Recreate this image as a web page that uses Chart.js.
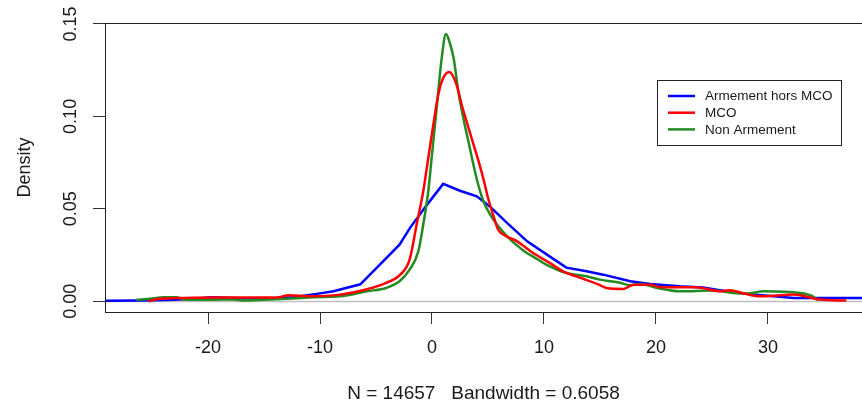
<!DOCTYPE html>
<html>
<head>
<meta charset="utf-8">
<script src="https://cdn.jsdelivr.net/npm/chart.js@4/dist/chart.umd.min.js"></script>
<style>
  html, body { margin: 0; padding: 0; background: #fff; overflow: hidden; }
</style>
</head>
<body>
<canvas id="densityChart" width="862" height="405"></canvas>
<script>
// Density curves (x = value, y = density)
const seriesLabels = ['Armement hors MCO', 'MCO', 'Non Armement'];

const armementX = [-29.2, -26, -23, -21.3, -19.8, -17, -14, -12.4, -10.3, -8.8, -6.4, -4.5, -2.9, -1.96, -0.47, 1.0, 2.5, 4.0, 4.6, 5.3, 6.07, 6.7, 8.5, 10.5, 12.0, 13.8, 15.3, 17.7, 19.5, 22.1, 24.2, 25.7, 28.1, 30.0, 32.3, 35.0, 38.4];
const armementY = [0.0003, 0.0004, 0.0008, 0.0013, 0.0022, 0.0016, 0.0016, 0.0022, 0.0040, 0.0054, 0.0092, 0.0208, 0.0306, 0.0397, 0.0520, 0.0635, 0.0598, 0.0568, 0.0540, 0.0505, 0.0460, 0.0424, 0.0324, 0.0243, 0.0182, 0.0162, 0.0144, 0.0108, 0.0094, 0.0081, 0.0074, 0.0060, 0.0040, 0.0030, 0.0018, 0.0018, 0.0018];

const mcoX = [-25.3, -24.5, -22.2, -19.0, -16.0, -13.9, -12.8, -11.0, -8.2, -5.8, -4.1, -2.9, -2.0, -1.37, -0.78, -0.33, 0.12, 0.56, 1.0, 1.55, 2.2, 2.65, 3.1, 3.55, 4.1, 4.6, 5.0, 5.5, 5.9, 6.4, 7.6, 9.0, 10.5, 11.7, 13.2, 14.9, 15.6, 17.1, 18.0, 19.5, 20.4, 23.6, 25.7, 26.6, 27.7, 29.3, 30.5, 32.3, 33.5, 34.6, 37.0];
const mcoY = [0.0000, 0.0012, 0.0018, 0.0020, 0.0020, 0.0020, 0.0032, 0.0027, 0.0036, 0.0065, 0.0100, 0.0140, 0.0225, 0.0415, 0.0595, 0.0775, 0.0955, 0.1117, 0.1207, 0.1240, 0.1170, 0.1063, 0.0970, 0.0880, 0.0770, 0.0660, 0.0560, 0.0460, 0.0388, 0.0360, 0.0324, 0.0262, 0.0208, 0.0162, 0.0128, 0.0090, 0.0072, 0.0067, 0.0090, 0.0090, 0.0076, 0.0076, 0.0054, 0.0060, 0.0045, 0.0027, 0.0030, 0.0036, 0.0024, 0.0009, 0.0004];

const nonArmementX = [-26.4, -25.0, -24.0, -22.8, -22.2, -20.0, -17.7, -16.8, -15.0, -12.5, -10.5, -8.2, -5.8, -4.1, -2.9, -2.0, -1.22, -0.78, -0.33, -0.03, 0.27, 0.56, 0.87, 1.25, 1.55, 1.93, 2.35, 2.8, 3.25, 3.7, 4.13, 4.6, 5.2, 5.8, 7.0, 7.7, 8.5, 9.0, 10.2, 12.0, 13.8, 15.0, 16.8, 17.7, 18.6, 20.1, 22.1, 25.1, 26.9, 28.1, 29.6, 32.9, 34.0, 34.5];
const nonArmementY = [0.0008, 0.0015, 0.0022, 0.0022, 0.0010, 0.0008, 0.0010, 0.0004, 0.0008, 0.0015, 0.0022, 0.0027, 0.0054, 0.0072, 0.0108, 0.0171, 0.0270, 0.0415, 0.0595, 0.0775, 0.0955, 0.1135, 0.1316, 0.1445, 0.1405, 0.1316, 0.1135, 0.0990, 0.0865, 0.0739, 0.0630, 0.0540, 0.0469, 0.0415, 0.0334, 0.0297, 0.0260, 0.0243, 0.0198, 0.0153, 0.0135, 0.0117, 0.0100, 0.0087, 0.0094, 0.0072, 0.0054, 0.0058, 0.0045, 0.0042, 0.0054, 0.0045, 0.0027, 0.0005];

const xTickValues = [-20, -10, 0, 10, 20, 30];
const yTickValues = [0, 0.05, 0.10, 0.15];
const xTitle = 'N = 14657   Bandwidth = 0.6058';
const yTitle = 'Density';

const FONT = "'Liberation Sans', Arial, sans-serif";
const INK = '#1a1a1a';

function toPoints(xs, ys) {
    return xs.map((x, i) => ({ x: x, y: ys[i] }));
}

// R-style extras: zero line, box round the plot, legend in the top right
const rPlotPlugin = {
    id: 'rPlot',
    beforeDatasetsDraw(chart) {
        const { ctx, chartArea, scales } = chart;
        const y0 = Math.round(scales.y.getPixelForValue(0)) + 0.5;
        ctx.save();
        ctx.strokeStyle = '#bebebe';
        ctx.lineWidth = 1.5;
        ctx.beginPath();
        ctx.moveTo(chartArea.left, y0);
        ctx.lineTo(chartArea.right, y0);
        ctx.stroke();
        ctx.restore();
    },
    afterDatasetsDraw(chart) {
        const { ctx, chartArea } = chart;
        ctx.save();
        ctx.strokeStyle = '#222';
        ctx.lineWidth = 1;
        ctx.strokeRect(Math.round(chartArea.left) + 0.5, Math.round(chartArea.top) + 0.5,
            chartArea.right - chartArea.left, chartArea.bottom - chartArea.top);

        // legend
        const box = { x: 657.5, y: 80.5, w: 184, h: 65 };
        ctx.fillStyle = '#fff';
        ctx.fillRect(box.x, box.y, box.w, box.h);
        ctx.strokeRect(box.x, box.y, box.w, box.h);
        ctx.font = '13.5px ' + FONT;
        ctx.textBaseline = 'middle';
        ctx.textAlign = 'left';
        chart.data.datasets.forEach((ds, i) => {
            const rowY = 96 + i * 16.7;
            ctx.strokeStyle = ds.borderColor;
            ctx.lineWidth = 2.5;
            ctx.beginPath();
            ctx.moveTo(668, rowY);
            ctx.lineTo(695, rowY);
            ctx.stroke();
            ctx.fillStyle = INK;
            ctx.fillText(ds.label, 705, rowY + 0.5);
        });
        ctx.restore();
    }
};

const ctx = document.getElementById('densityChart').getContext('2d');

new Chart(ctx, {
    type: 'line',
    data: {
        datasets: [
            {
                label: seriesLabels[0],
                data: toPoints(armementX, armementY),
                borderColor: '#0000ff',
                borderWidth: 2.5,
                pointRadius: 0,
                tension: 0,
                fill: false,
                order: 3
            },
            {
                label: seriesLabels[1],
                data: toPoints(mcoX, mcoY),
                borderColor: '#ff0000',
                borderWidth: 2.5,
                pointRadius: 0,
                cubicInterpolationMode: 'monotone',
                fill: false,
                order: 1
            },
            {
                label: seriesLabels[2],
                data: toPoints(nonArmementX, nonArmementY),
                borderColor: '#228b22',
                borderWidth: 2.5,
                pointRadius: 0,
                cubicInterpolationMode: 'monotone',
                fill: false,
                order: 2
            }
        ]
    },
    options: {
        responsive: false,
        animation: false,
        events: [],
        layout: { padding: { top: 23, right: 0, bottom: 0, left: 0 } },
        plugins: {
            legend: { display: false },
            tooltip: { enabled: false }
        },
        scales: {
            x: {
                type: 'linear',
                min: -29.2,
                max: 38.4,
                afterBuildTicks: scale => { scale.ticks = xTickValues.map(v => ({ value: v })); },
                afterFit: scale => { scale.height = 93; },
                border: { display: false },
                grid: { drawOnChartArea: false, drawTicks: true, tickLength: 12, color: '#333' },
                ticks: {
                    autoSkip: false,
                    maxRotation: 0,
                    padding: 13,
                    color: INK,
                    font: { family: FONT, size: 18 },
                    callback: v => String(v)
                },
                title: {
                    display: true,
                    text: xTitle,
                    color: INK,
                    font: { family: FONT, size: 19 },
                    padding: { top: 0, bottom: 0 }
                }
            },
            y: {
                min: -0.0058,
                max: 0.1505,
                afterBuildTicks: scale => { scale.ticks = yTickValues.map(v => ({ value: v })); },
                afterFit: scale => { scale.width = 105; },
                border: { display: false },
                grid: { drawOnChartArea: false, drawTicks: true, tickLength: 12, color: '#333' },
                ticks: {
                    minRotation: 90,
                    maxRotation: 90,
                    crossAlign: 'center',
                    padding: 4,
                    color: INK,
                    font: { family: FONT, size: 18 },
                    callback: v => v.toFixed(2)
                },
                title: {
                    display: true,
                    text: yTitle,
                    color: INK,
                    font: { family: FONT, size: 18 },
                    padding: { top: 14, bottom: 0 }
                }
            }
        }
    },
    plugins: [rPlotPlugin]
});
</script>
</body>
</html>
